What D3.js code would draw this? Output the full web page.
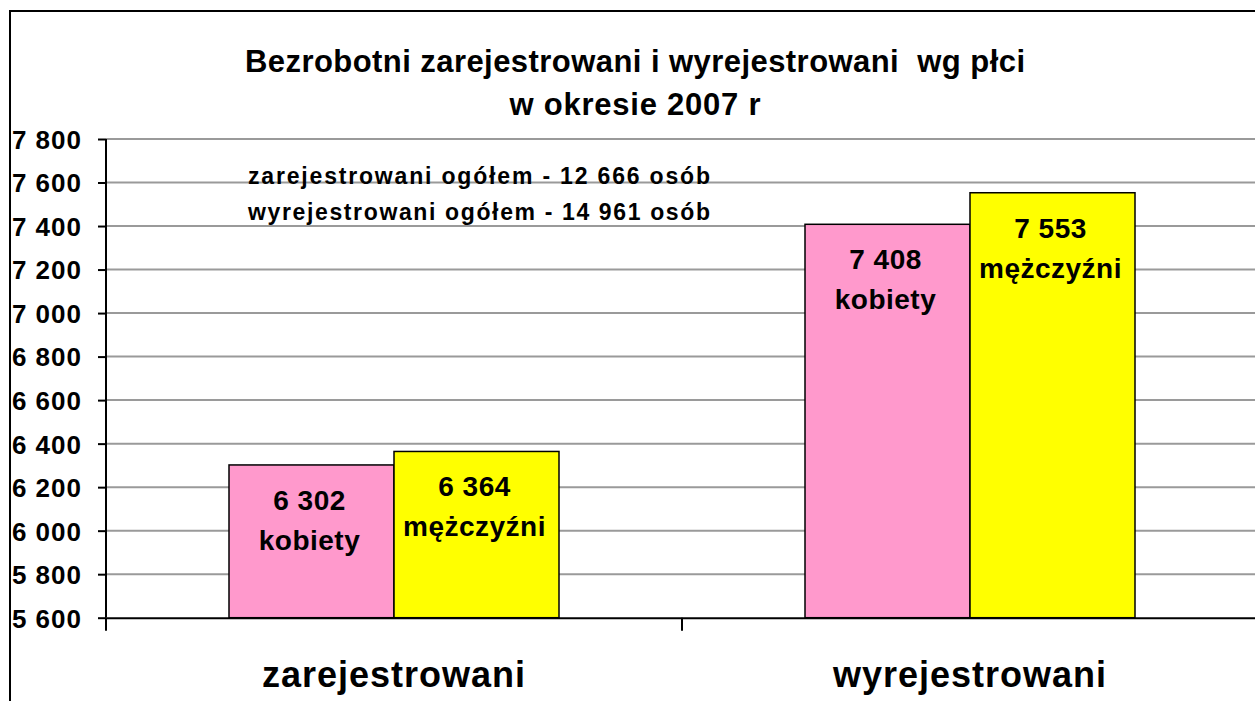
<!DOCTYPE html>
<html>
<head>
<meta charset="utf-8">
<script src="https://cdn.jsdelivr.net/npm/d3@7"></script>
<style>
  body { margin: 0; background: #fff; }
  text { font-family: "Liberation Sans", Arial, sans-serif; font-weight: bold; fill: #000; }
</style>
</head>
<body>
<svg id="chart" width="1255" height="701"></svg>
<script>
// data
const categories = ["zarejestrowani", "wyrejestrowani"];
const seriesNames = ["kobiety", "mężczyźni"];
const kobiety = [6302, 7408];
const mezczyzni = [6364, 7553];
const yTicks = [5600, 5800, 6000, 6200, 6400, 6600, 6800, 7000, 7200, 7400, 7600, 7800];
const titleLines = ["Bezrobotni zarejestrowani i wyrejestrowani  wg płci", "w okresie 2007 r"];
const notes = ["zarejestrowani ogółem - 12 666 osób", "wyrejestrowani ogółem - 14 961 osób"];
const colors = ["#ff99cc", "#ffff00"];

const width = 1255, height = 701;
const margin = {top: 139, right: -3, bottom: 83, left: 106};

const svg = d3.select("#chart");
const locale = d3.formatLocale({decimal: ",", thousands: " ", grouping: [3], currency: ["", " zł"]});
const fmt = locale.format(",d");

// outer frame (cut by the window on the right and bottom)
svg.append("rect")
  .attr("x", 10).attr("y", 11)
  .attr("width", width + 20).attr("height", height + 20)
  .attr("fill", "none").attr("stroke", "#000").attr("stroke-width", 2);

const x = d3.scaleBand()
  .domain(categories)
  .range([margin.left, width - margin.right]);
const xs = d3.scaleBand()
  .domain(seriesNames)
  .range([123, x.bandwidth() - 123]);
const y = d3.scaleLinear()
  .domain([d3.min(yTicks), d3.max(yTicks)])
  .range([height - margin.bottom - 0.3, margin.top]);

// gridlines
svg.append("g")
  .selectAll("line")
  .data(yTicks.slice(1))
  .join("line")
  .attr("x1", margin.left).attr("x2", width)
  .attr("y1", d => y(d)).attr("y2", d => y(d))
  .attr("stroke", "#9a9a9a").attr("stroke-width", 2);

// y axis
const yAxis = d3.axisLeft(y).tickValues(yTicks).tickFormat(fmt).tickSize(8).tickPadding(16);
const gy = svg.append("g")
  .attr("transform", `translate(${margin.left},0)`)
  .call(yAxis);
gy.select(".domain").attr("stroke", "#000").attr("stroke-width", 2).attr("d", `M0,${y(7800)}V${y(5600)}`);
gy.selectAll(".tick line").attr("stroke", "#000").attr("stroke-width", 2);
gy.selectAll(".tick text")
  .style("font-family", "'Liberation Sans', Arial, sans-serif")
  .style("font-weight", "bold")
  .style("font-size", "26px")
  .style("letter-spacing", "1px")
  .attr("dy", "0.36em");

// bars
const data = categories.map((c, i) => ({cat: c, values: [kobiety[i], mezczyzni[i]]}));
const groups = svg.append("g")
  .selectAll("g")
  .data(data)
  .join("g")
  .attr("transform", d => `translate(${x(d.cat)},0)`);

groups.selectAll("rect")
  .data(d => d.values.map((v, j) => ({name: seriesNames[j], value: v, j})))
  .join("rect")
  .attr("x", d => xs(d.name))
  .attr("y", d => y(d.value))
  .attr("width", xs.bandwidth())
  .attr("height", d => y(yTicks[0]) - y(d.value))
  .attr("fill", d => colors[d.j])
  .attr("stroke", "#000")
  .attr("stroke-width", 1.5);

// labels inside bars
const labels = groups.selectAll("text")
  .data(d => d.values.map((v, j) => ({name: seriesNames[j], value: v, j})))
  .join("text")
  .attr("text-anchor", "middle")
  .style("font-size", "28px")
  .style("letter-spacing", "0.5px");
labels.append("tspan")
  .attr("x", d => xs(d.name) + xs.bandwidth() / 2 - 2)
  .attr("y", d => y(d.value) + 45)
  .text(d => fmt(d.value));
labels.append("tspan")
  .attr("x", d => xs(d.name) + xs.bandwidth() / 2 - 2)
  .attr("y", d => y(d.value) + 85)
  .text(d => d.name);

// x axis
const xAxis = d3.axisBottom(x).tickSize(0).tickFormat("");
const gx = svg.append("g")
  .attr("transform", `translate(0,${y(yTicks[0])})`)
  .call(xAxis);
gx.select(".domain").attr("stroke", "#000").attr("stroke-width", 2);
// category boundary ticks
gx.selectAll(".sep")
  .data([margin.left, x(categories[1])])
  .join("line")
  .attr("x1", d => d).attr("x2", d => d)
  .attr("y1", 0).attr("y2", 13)
  .attr("stroke", "#000").attr("stroke-width", 2);

svg.append("g")
  .selectAll("text")
  .data(categories)
  .join("text")
  .attr("x", d => x(d) + x.bandwidth() / 2)
  .attr("y", 687)
  .attr("text-anchor", "middle")
  .style("font-size", "36px")
  .style("letter-spacing", "1px")
  .text(d => d);

// title
const titleWidths = [780, 251];
svg.append("g")
  .selectAll("text")
  .data(titleLines)
  .join("text")
  .attr("x", (d, i) => 635 - titleWidths[i] / 2)
  .attr("y", (d, i) => 72 + i * 43)
  .attr("textLength", (d, i) => titleWidths[i])
  .attr("lengthAdjust", "spacing")
  .style("white-space", "pre")
  .style("font-size", "31px")
  .text(d => d);

// notes
svg.append("g")
  .selectAll("text")
  .data(notes)
  .join("text")
  .attr("x", 248)
  .attr("y", (d, i) => 184 + i * 36)
  .attr("textLength", 462)
  .attr("lengthAdjust", "spacing")
  .style("font-size", "23px")
  .text(d => d);
</script>
</body>
</html>
